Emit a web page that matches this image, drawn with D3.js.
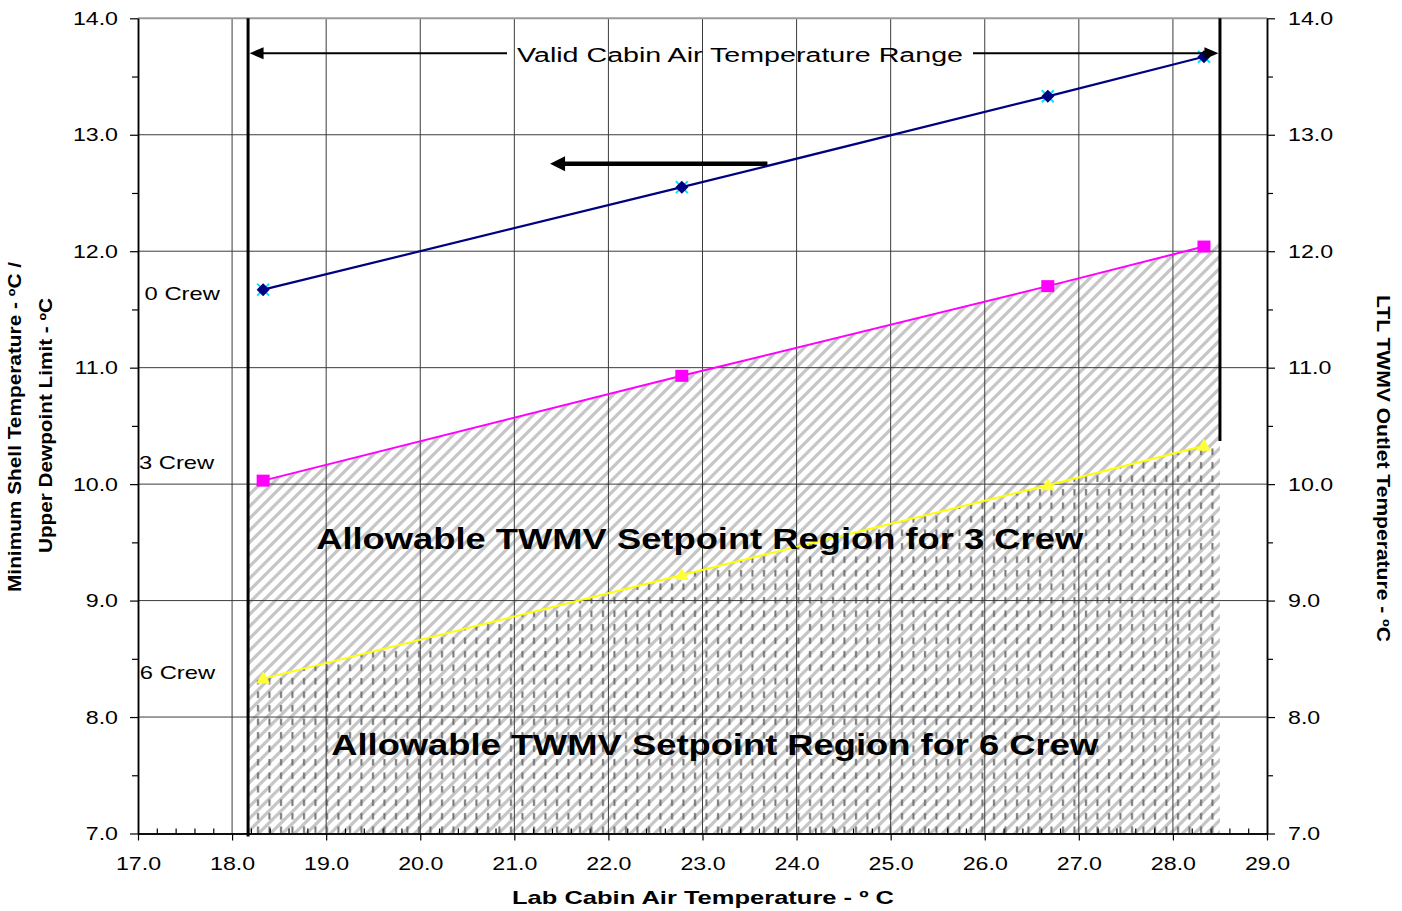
<!DOCTYPE html>
<html><head><meta charset="utf-8">
<script src="https://cdn.jsdelivr.net/npm/d3@7"></script>
<style>
body{margin:0;background:#fff}
svg{display:block}
text{font-family:"Liberation Sans",Arial,sans-serif;fill:#000}
</style>
</head><body>
<svg id="c" width="1402" height="911"></svg>
<script>
// ---------------- data ----------------
const cabinTemps = [18.33, 22.78, 26.67, 28.33];
const crew0 = [11.67, 12.55, 13.33, 13.67];
const crew3 = [10.03, 10.93, 11.70, 12.04];
const crew6 = [8.33, 9.22, 9.99, 10.33];
const crewLabels = ["0 Crew", "3 Crew", "6 Crew"];
const crewLabelY = [11.58, 10.13, 8.33];
const crewLabelX = [17.07, 17.01, 17.02];
const validRange = [18.17, 28.5];
const regionX = [18.17, 18.33, 22.78, 26.67, 28.33, 28.5];
const region3Top = [10.00, 10.03, 10.93, 11.70, 12.04, 12.07];
const region6Top = [8.30, 8.33, 9.22, 9.99, 10.33, 10.37];
const regionLabels = ["Allowable TWMV Setpoint Region for 3 Crew", "Allowable TWMV Setpoint Region for 6 Crew"];
const regionLabelX = [22.97, 23.13];
const regionLabelY = [9.44, 7.67];
const xTickValues = [17, 18, 19, 20, 21, 22, 23, 24, 25, 26, 27, 28, 29];
const xTickLabels = ["17.0","18.0","19.0","20.0","21.0","22.0","23.0","24.0","25.0","26.0","27.0","28.0","29.0"];
const yTickValues = [7, 8, 9, 10, 11, 12, 13, 14];
const yTickLabels = ["7.0","8.0","9.0","10.0","11.0","12.0","13.0","14.0"];
const rangeTitle = "Valid Cabin Air Temperature Range";
const rangeArrowY = 13.70;
const readArrowX = [23.69, 21.38];
const readArrowY = 12.75;
const xTitle = "Lab Cabin Air Temperature - º C";
const yTitle = ["Minimum Shell Temperature - ºC /", "Upper Dewpoint Limit - ºC"];
const y2Title = "LTL TWMV Outlet Temperature - ºC";

// ---------------- setup ----------------
const svg = d3.select("#c");
const L = 138, R = 1267, T = 18.3, B = 833.5;
const x = d3.scaleLinear().domain([17, 29]).range([L, R]);
const y = d3.scaleLinear().domain([7, 14]).range([B, T]);

function stretch(sel, f) {
  sel.each(function () {
    const w = this.getComputedTextLength();
    this.setAttribute("textLength", w * f);
    this.setAttribute("lengthAdjust", "spacingAndGlyphs");
  });
}

const defs = svg.append("defs");
const pd = defs.append("pattern").attr("id", "diag").attr("patternUnits", "userSpaceOnUse")
  .attr("width", 12).attr("height", 12);
pd.append("rect").attr("width", 12).attr("height", 12).attr("fill", "#fff");
pd.append("path").attr("d", "M-3,15 L15,-3 M-9,9 L9,-9 M3,21 L21,3")
  .attr("stroke", "#c6c6c6").attr("stroke-width", 3.2);

const pv = defs.append("pattern").attr("id", "vdash").attr("patternUnits", "userSpaceOnUse")
  .attr("width", 11.5).attr("height", 13.5);
pv.append("rect").attr("x", 4).attr("y", 3).attr("width", 2).attr("height", 6.5).attr("fill", "#707070");

// ---------------- regions ----------------
const pts3 = regionX.map((v, i) => [v, region3Top[i]]);
const pts6 = regionX.map((v, i) => [v, region6Top[i]]);
const area = d3.area().x(d => x(d[0])).y0(y(7)).y1(d => y(d[1]));
svg.append("path").datum(pts3).attr("d", area).attr("fill", "url(#diag)");
svg.append("path").datum(pts6).attr("d", area).attr("fill", "url(#vdash)");

// ---------------- grid ----------------
const grid = svg.append("g");
grid.selectAll("line.h").data(yTickValues.filter(v => v > 7 && v < 14)).join("line")
  .attr("x1", L).attr("x2", R).attr("y1", d => y(d)).attr("y2", d => y(d))
  .attr("stroke", "#3c3c3c").attr("stroke-width", 1);
grid.selectAll("line.v").data(xTickValues.filter(v => v > 17 && v < 29)).join("line")
  .attr("y1", T).attr("y2", B).attr("x1", d => x(d)).attr("x2", d => x(d))
  .attr("stroke", "#3c3c3c").attr("stroke-width", 1);
grid.append("line").attr("x1", L).attr("x2", R).attr("y1", y(14)).attr("y2", y(14))
  .attr("stroke", "#9a9a9a").attr("stroke-width", 2);

// ---------------- axes ----------------
const fmt = (vals, labels) => d => labels[vals.indexOf(d)];
const minorY = d3.range(7, 14.01, 0.5).filter(v => !Number.isInteger(v));
const minorX = d3.range(17, 29.001, 0.2).map(v => +v.toFixed(1)).filter(v => Math.abs(v - Math.round(v)) > 1e-6);

function styleAxis(g) {
  g.selectAll("path.domain").attr("stroke", "#000").attr("stroke-width", 1.5);
  g.selectAll(".tick line").attr("stroke", "#000").attr("stroke-width", 1.2);
  g.selectAll("text").style("font-size", "19px").style("font-family", '"Liberation Sans",Arial,sans-serif').attr("fill", "#000");
}
const gl = svg.append("g").attr("transform", `translate(${L},0)`)
  .call(d3.axisLeft(y).tickValues(yTickValues).tickFormat(fmt(yTickValues, yTickLabels)).tickSize(8).tickPadding(12).tickSizeOuter(0));
svg.append("g").attr("transform", `translate(${L},0)`)
  .call(d3.axisLeft(y).tickValues(minorY).tickFormat("").tickSize(6).tickSizeOuter(0)).call(styleAxis);
styleAxis(gl);
const gr = svg.append("g").attr("transform", `translate(${R},0)`)
  .call(d3.axisRight(y).tickValues(yTickValues).tickFormat(fmt(yTickValues, yTickLabels)).tickSize(8).tickPadding(13).tickSizeOuter(0));
svg.append("g").attr("transform", `translate(${R},0)`)
  .call(d3.axisRight(y).tickValues(minorY).tickFormat("").tickSize(6).tickSizeOuter(0)).call(styleAxis);
styleAxis(gr);
const gb = svg.append("g").attr("transform", `translate(0,${B})`)
  .call(d3.axisBottom(x).tickValues(xTickValues).tickFormat(fmt(xTickValues, xTickLabels)).tickSize(7).tickPadding(16).tickSizeOuter(0));
svg.append("g").attr("transform", `translate(0,${B})`)
  .call(d3.axisBottom(x).tickValues(minorX).tickFormat("").tickSize(-5).tickSizeOuter(0)).call(styleAxis);
styleAxis(gb);
[gl, gr, gb].forEach(g => stretch(g.selectAll("text"), 1.22));

// ---------------- series lines ----------------
const line = d3.line().x(d => x(d[0])).y(d => y(d[1]));
const s0 = cabinTemps.map((v, i) => [v, crew0[i]]);
const s3 = cabinTemps.map((v, i) => [v, crew3[i]]);
const s6 = cabinTemps.map((v, i) => [v, crew6[i]]);
svg.append("path").datum(s6).attr("d", line).attr("fill", "none").attr("stroke", "#ffff00").attr("stroke-width", 2);
svg.append("path").datum(s3).attr("d", line).attr("fill", "none").attr("stroke", "#ff00ff").attr("stroke-width", 2);
svg.append("path").datum(s0).attr("d", line).attr("fill", "none").attr("stroke", "#000080").attr("stroke-width", 2.2);

// markers
svg.selectAll("path.x0").data(s0).join("path")
  .attr("d", d => { const cx = x(d[0]), cy = y(d[1]); return `M${cx-6},${cy-6}L${cx+6},${cy+6}M${cx-6},${cy+6}L${cx+6},${cy-6}`; })
  .attr("stroke", "#00e5ff").attr("stroke-width", 2);
svg.selectAll("path.d0").data(s0).join("path")
  .attr("d", d => { const cx = x(d[0]), cy = y(d[1]); return `M${cx},${cy-6.5}L${cx+6.5},${cy}L${cx},${cy+6.5}L${cx-6.5},${cy}Z`; })
  .attr("fill", "#000080");
svg.selectAll("rect.m3").data(s3).join("rect")
  .attr("x", d => x(d[0]) - 6.5).attr("y", d => y(d[1]) - 6).attr("width", 13).attr("height", 12)
  .attr("fill", "#ff00ff");
svg.selectAll("path.t6").data(s6).join("path")
  .attr("d", d => { const cx = x(d[0]), cy = y(d[1]); return `M${cx},${cy-7}L${cx+7},${cy+5}L${cx-7},${cy+5}Z`; })
  .attr("fill", "#ffff33");

// ---------------- valid-range boundaries ----------------
svg.append("line").attr("x1", x(validRange[0])).attr("x2", x(validRange[0])).attr("y1", T).attr("y2", B + 3)
  .attr("stroke", "#000").attr("stroke-width", 3);
svg.append("line").attr("x1", x(validRange[1])).attr("x2", x(validRange[1])).attr("y1", T).attr("y2", y(region6Top[region6Top.length - 1]))
  .attr("stroke", "#000").attr("stroke-width", 3);

// ---------------- arrows ----------------
function arrowHead(tipX, tipY, dir, len, half) {
  return `M${tipX},${tipY}L${tipX - dir * len},${tipY - half}L${tipX - dir * len},${tipY + half}Z`;
}
const ay = y(rangeArrowY);
const rt = svg.append("text").attr("x", 740).attr("y", ay + 8.5).attr("text-anchor", "middle")
  .style("font-size", "20px").text(rangeTitle)
  .attr("textLength", 446).attr("lengthAdjust", "spacingAndGlyphs");
const bb = rt.node().getBBox();
svg.append("line").attr("x1", bb.x - 10).attr("x2", x(validRange[0]) + 12).attr("y1", ay).attr("y2", ay)
  .attr("stroke", "#000").attr("stroke-width", 2.2);
svg.append("path").attr("d", arrowHead(x(validRange[0]) + 1.5, ay, -1, 14, 6)).attr("fill", "#000");
svg.append("line").attr("x1", bb.x + bb.width + 10).attr("x2", x(validRange[1]) - 12).attr("y1", ay).attr("y2", ay)
  .attr("stroke", "#000").attr("stroke-width", 2.2);
svg.append("path").attr("d", arrowHead(x(validRange[1]) - 1.5, ay, 1, 14, 6)).attr("fill", "#000");

const ry = y(readArrowY);
svg.append("line").attr("x1", x(readArrowX[0])).attr("x2", x(readArrowX[1]) + 12).attr("y1", ry).attr("y2", ry)
  .attr("stroke", "#000").attr("stroke-width", 4.5);
svg.append("path").attr("d", arrowHead(x(readArrowX[1]), ry, -1, 15, 7.5)).attr("fill", "#000");

// ---------------- labels ----------------
const cl = svg.selectAll("text.crew").data(crewLabels).join("text")
  .attr("x", (d, i) => x(crewLabelX[i])).attr("y", (d, i) => y(crewLabelY[i]))
  .style("font-size", "19px").text(d => d);
stretch(cl, 1.25);

const rl = svg.selectAll("text.reg").data(regionLabels).join("text")
  .attr("x", (d, i) => x(regionLabelX[i])).attr("y", (d, i) => y(regionLabelY[i]))
  .attr("text-anchor", "middle").style("font-size", "29px").style("font-weight", "bold").text(d => d);
rl.each(function () { this.setAttribute("textLength", 767); this.setAttribute("lengthAdjust", "spacingAndGlyphs"); });

// axis titles
const xt = svg.append("text").attr("x", 703).attr("y", 904).attr("text-anchor", "middle")
  .style("font-size", "19px").style("font-weight", "bold").text(xTitle);
xt.attr("textLength", 382).attr("lengthAdjust", "spacingAndGlyphs");

svg.append("text").attr("transform", "translate(21,427) rotate(-90)").attr("text-anchor", "middle")
  .style("font-size", "18px").style("font-weight", "bold").text(yTitle[0])
  .attr("textLength", 330).attr("lengthAdjust", "spacingAndGlyphs");
svg.append("text").attr("transform", "translate(52,425.5) rotate(-90)").attr("text-anchor", "middle")
  .style("font-size", "18px").style("font-weight", "bold").text(yTitle[1])
  .attr("textLength", 255).attr("lengthAdjust", "spacingAndGlyphs");
svg.append("text").attr("transform", "translate(1377,468.5) rotate(90)").attr("text-anchor", "middle")
  .style("font-size", "18px").style("font-weight", "bold").text(y2Title)
  .attr("textLength", 347).attr("lengthAdjust", "spacingAndGlyphs");
</script>
</body></html>
